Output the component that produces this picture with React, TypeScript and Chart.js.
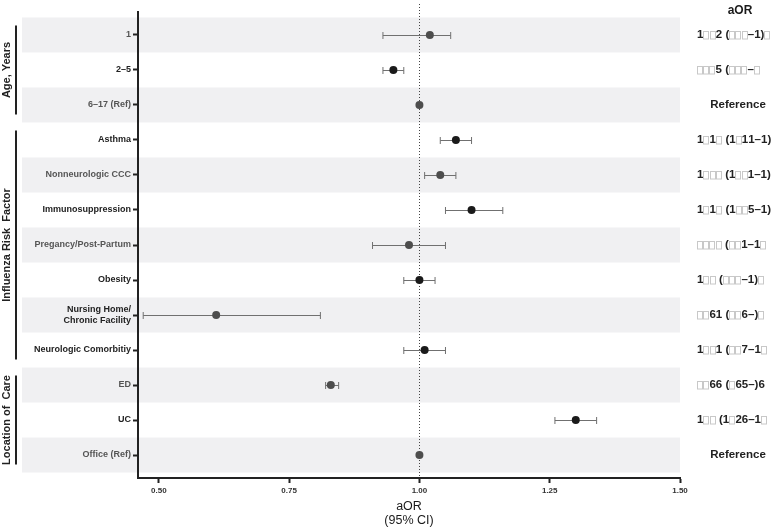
import { useEffect, useRef } from 'react';
import { Chart, registerables } from 'chart.js';
Chart.register(...registerables);

const categories: (string | string[])[] = [
  '1', '2–5', '6–17 (Ref)', 'Asthma', 'Nonneurologic CCC', 'Immunosuppression',
  'Pregancy/Post-Partum', 'Obesity', ['Nursing Home/', 'Chronic Facility'],
  'Neurologic Comorbitiy', 'ED', 'UC', 'Office (Ref)',
];
const aor = [1.02, 0.95, 1.0, 1.07, 1.04, 1.1, 0.98, 1.0, 0.61, 1.01, 0.83, 1.3, 1.0];
const ciLow: (number | null)[] = [0.93, 0.93, null, 1.04, 1.01, 1.05, 0.91, 0.97, 0.47, 0.97, 0.82, 1.26, null];
const ciHigh: (number | null)[] = [1.06, 0.97, null, 1.10, 1.07, 1.16, 1.05, 1.03, 0.81, 1.05, 0.845, 1.34, null];
const aorText = [
  '1□□2 (□□□–1)□', '□□□5 (□□□–□', 'Reference', '1□1□ (1□11–1)', '1□□□ (1□□1–1)',
  '1□1□ (1□□5–1)', '□□□□ (□□1–1□', '1□□ (□□□–1)□', '□□61 (□□6–)□', '1□□1 (□□7–1□',
  '□□66 (□65–)6', '1□□ (1□26–1□', 'Reference',
];
const groupNames = ['Age, Years', 'Influenza Risk  Factor', 'Location of  Care'];
const groupFirst = [0, 3, 10];
const groupLast = [2, 9, 12];
const xTicks = [0.5, 0.75, 1.0, 1.25, 1.5];
const xTitle = ['aOR', '(95% CI)'];
const rightHeader = 'aOR';

const FONT = '"Liberation Sans", Arial, sans-serif';
const isGray = (i: number) => i % 2 === 0;

export default function App() {
  const ref = useRef<HTMLCanvasElement>(null);
  useEffect(() => {
    const plugin = {
      id: 'forest',
      beforeDraw(chart: any) {
        const { ctx, scales } = chart;
        const y = scales.y;
        ctx.save();
        ctx.fillStyle = '#f0f0f2';
        for (let i = 0; i < categories.length; i += 2) {
          const top = y.getPixelForValue(i - 0.5);
          const bot = y.getPixelForValue(i + 0.5);
          ctx.fillRect(22, top, 680 - 22, bot - top);
        }
        ctx.restore();
      },
      beforeDatasetsDraw(chart: any) {
        const { ctx, scales, chartArea } = chart;
        const x = scales.x, y = scales.y;
        ctx.save();
        ctx.strokeStyle = '#444';
        ctx.lineWidth = 1;
        ctx.setLineDash([1, 2]);
        const x1 = Math.round(x.getPixelForValue(1)) + 0.5;
        ctx.beginPath();
        ctx.moveTo(x1, 4);
        ctx.lineTo(x1, chartArea.bottom);
        ctx.stroke();
        ctx.setLineDash([]);
        ctx.strokeStyle = '#707070';
        ctx.lineWidth = 1;
        for (let i = 0; i < aor.length; i++) {
          const lo = ciLow[i], hi = ciHigh[i];
          if (lo == null || hi == null) continue;
          const py = Math.round(y.getPixelForValue(i)) + 0.5;
          const a = x.getPixelForValue(lo), b = x.getPixelForValue(hi);
          ctx.beginPath();
          ctx.moveTo(a, py); ctx.lineTo(b, py);
          ctx.moveTo(a, py - 3.5); ctx.lineTo(a, py + 3.5);
          ctx.moveTo(b, py - 3.5); ctx.lineTo(b, py + 3.5);
          ctx.stroke();
        }
        ctx.restore();
      },
      afterDraw(chart: any) {
        const { ctx, scales } = chart;
        const y = scales.y;
        ctx.save();
        for (let g = 0; g < groupNames.length; g++) {
          const top = y.getPixelForValue(groupFirst[g] - 0.5) + 8;
          const bot = y.getPixelForValue(groupLast[g] + 0.5) - 8;
          ctx.fillStyle = '#222';
          ctx.fillRect(15, top, 2, bot - top);
          ctx.save();
          ctx.translate(7, (top + bot) / 2);
          ctx.rotate(-Math.PI / 2);
          ctx.font = `bold 11px ${FONT}`;
          ctx.textAlign = 'center';
          ctx.textBaseline = 'middle';
          ctx.fillText(groupNames[g], 0, 0);
          ctx.restore();
        }
        ctx.fillStyle = '#1a1a1a';
        ctx.font = `12.5px ${FONT}`;
        ctx.textAlign = 'center';
        ctx.textBaseline = 'middle';
        ctx.fillText(xTitle[0], 409, 507);
        ctx.fillText(xTitle[1], 409, 521);
        ctx.font = `bold 12px ${FONT}`;
        ctx.fillText(rightHeader, 740, 11);
        ctx.font = `bold 11.5px ${FONT}`;
        ctx.textBaseline = 'middle';
        for (let i = 0; i < aorText.length; i++) {
          const py = y.getPixelForValue(i);
          const t = aorText[i];
          if (t === 'Reference') {
            ctx.textAlign = 'center';
            ctx.fillStyle = '#222';
            ctx.fillText(t, 738, py);
            continue;
          }
          ctx.textAlign = 'left';
          let cx = 697;
          for (const ch of t) {
            if (ch === '□') {
              ctx.strokeStyle = '#c8c8c8';
              ctx.lineWidth = 1;
              ctx.strokeRect(Math.round(cx) + 0.5, Math.round(py - 4) + 0.5, 5, 7.5);
              cx += 6.2;
            } else {
              ctx.fillStyle = '#222';
              ctx.fillText(ch, cx, py);
              cx += ctx.measureText(ch).width;
            }
          }
        }
        ctx.restore();
      },
    };

    const chart = new Chart(ref.current!, {
      type: 'scatter',
      data: {
        datasets: [{
          data: aor.map((v, i) => ({ x: v, y: i })),
          pointRadius: 4,
          pointHoverRadius: 4,
          pointBorderWidth: 0,
          pointBackgroundColor: aor.map((_, i) => (isGray(i) ? '#4d4d4d' : '#1a1a1a')),
          pointBorderColor: aor.map((_, i) => (isGray(i) ? '#4d4d4d' : '#1a1a1a')),
        }],
      },
      options: {
        responsive: false,
        animation: false,
        layout: { padding: { left: 0, right: 102, top: 12, bottom: 0 } },
        plugins: { legend: { display: false }, tooltip: { enabled: false } },
        scales: {
          x: {
            type: 'linear',
            min: 0.46,
            max: 1.5,
            afterBuildTicks: (s: any) => { s.ticks = xTicks.map((v) => ({ value: v })); },
            afterFit: (s: any) => { s.height = 50; },
            grid: { drawOnChartArea: false, drawTicks: true, tickLength: 5, tickWidth: 2, tickColor: '#222' },
            border: { display: true, color: '#222', width: 2 },
            ticks: {
              font: { family: FONT, size: 8, weight: 'bold' },
              color: '#333',
              padding: 3,
              maxRotation: 0,
              autoSkip: false,
              callback: (v: any) => Number(v).toFixed(2),
            },
          },
          y: {
            type: 'linear',
            reverse: true,
            min: -0.657,
            max: 12.657,
            afterBuildTicks: (s: any) => { s.ticks = categories.map((_, i) => ({ value: i })); },
            afterFit: (s: any) => { s.width = 138; },
            grid: { drawOnChartArea: false, drawTicks: true, tickLength: 5, tickWidth: 2, tickColor: '#222' },
            border: { display: true, color: '#222', width: 2 },
            ticks: {
              font: { family: FONT, size: 9, weight: 'bold', lineHeight: 1.25 },
              color: (c: any) => (isGray(c.index) && c.index !== 8 ? '#555' : '#222'),
              padding: 2,
              autoSkip: false,
              callback: (v: any) => categories[Number(v)] as any,
            },
          },
        },
      } as any,
      plugins: [plugin],
    });
    return () => chart.destroy();
  }, []);
  return (
    <div style={{ position: 'fixed', left: 0, top: 0, width: 782, height: 528, background: '#fff' }}>
      <canvas ref={ref} width={782} height={528} style={{ display: 'block', width: 782, height: 528 }} />
    </div>
  );
}
